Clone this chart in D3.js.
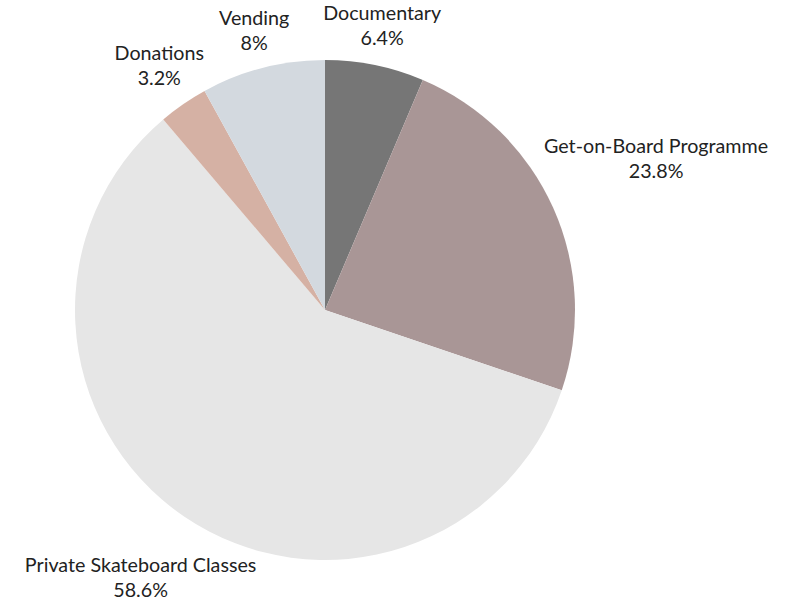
<!DOCTYPE html>
<html>
<head>
<meta charset="utf-8">
<script src="https://cdn.jsdelivr.net/npm/d3@7"></script>
<style>
  body { margin: 0; background: #fff; }
  svg text { font-family: Lato, "Open Sans", sans-serif; font-size: 19.7px; fill: #222; }
</style>
</head>
<body>
<svg width="800" height="604"></svg>
<script>
  const categories = ['Documentary', 'Get-on-Board Programme', 'Private Skateboard Classes', 'Donations', 'Vending'];
  const values = [6.4, 23.8, 58.6, 3.2, 8];
  const colorList = ['#767676', '#a99696', '#e6e6e6', '#d5b1a4', '#d3d9df'];

  const svg = d3.select('svg');
  const cx = 325, cy = 310, radius = 250;
  const total = d3.sum(values);
  const pctFormat = d3.format('.1~f');

  const data = categories.map((name, i) => ({ name, value: values[i] }));

  const colors = d3.scaleOrdinal().domain(categories).range(colorList);

  const pieData = d3.pie().sort(null).value(d => d.value)(data);
  const arc = d3.arc().innerRadius(0).outerRadius(radius);

  const g = svg.append('g').attr('transform', `translate(${cx},${cy})`);

  g.selectAll('path').data(pieData).enter().append('path')
    .attr('d', arc)
    .attr('fill', d => colors(d.data.name));

  // labels: two centred lines, pushed out along the slice's mid angle
  const labels = g.selectAll('.lbl').data(pieData).enter().append('text')
    .attr('class', 'lbl')
    .attr('text-anchor', 'middle');

  labels.append('tspan').attr('x', 0).attr('dy', 0).text(d => d.data.name);
  labels.append('tspan').attr('x', 0).attr('dy', 25)
    .text(d => pctFormat(d.data.value / total * 100) + '%');

  labels.each(function (d) {
    const bb = this.getBBox();
    const hw = bb.width / 2, hh = bb.height / 2;
    const mid = (d.startAngle + d.endAngle) / 2;
    const ux = Math.sin(mid), uy = -Math.cos(mid);
    const ext = Math.sqrt((hw * ux) ** 2 + (hh * uy) ** 2);
    const dist = radius + 10 + ext;
    const tx = ux * dist - (bb.x + hw);
    const ty = uy * dist - (bb.y + hh) - 4;
    d3.select(this).attr('transform', `translate(${tx},${ty})`);
  });
</script>
</body>
</html>
